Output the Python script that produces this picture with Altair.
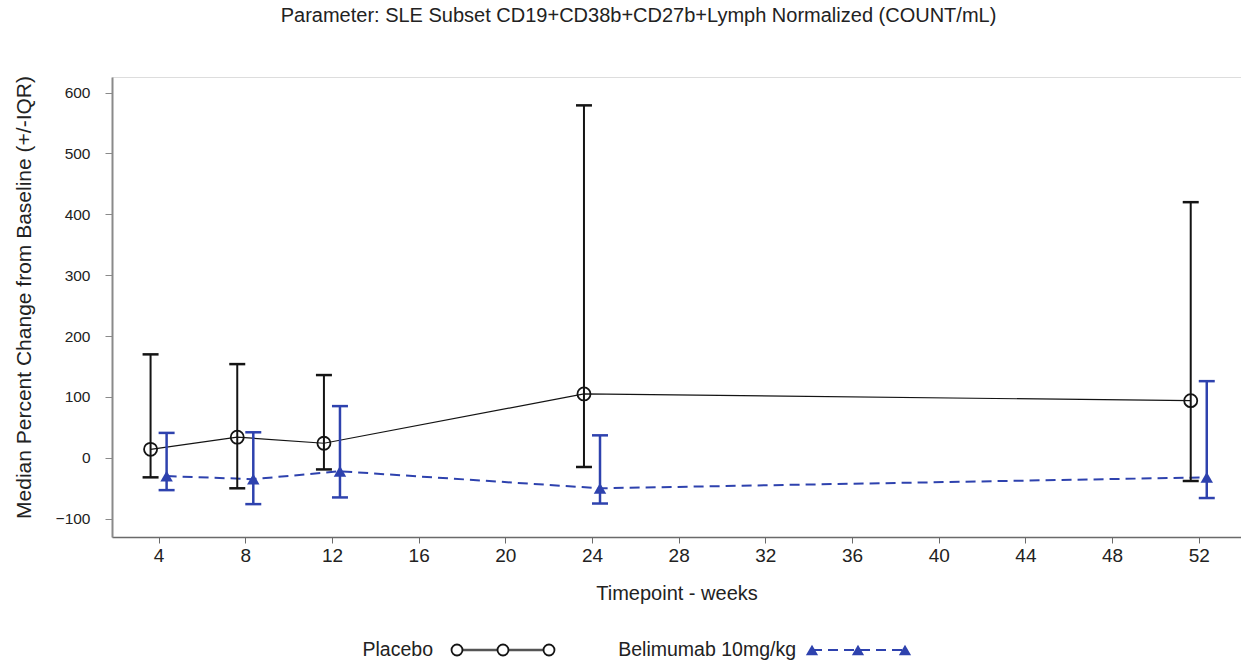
import altair as alt
import pandas as pd

# ---- data ----
groups = ["Placebo", "Belimumab 10mg/kg"]
weeks = [4, 8, 12, 24, 52]
placebo_median = [14, 34, 24, 105, 94]
placebo_q1 = [-32, -50, -19, -15, -38]
placebo_q3 = [170, 154, 136, 579, 420]
beli_median = [-30, -35, -22, -50, -32]
beli_q1 = [-53, -76, -65, -75, -66]
beli_q3 = [41, 42, 85, 37, 126]
x_ticks = list(range(4, 53, 4))
y_ticks = list(range(-100, 601, 100))

rows = []
for g, med, lo, hi in [(groups[0], placebo_median, placebo_q1, placebo_q3),
                       (groups[1], beli_median, beli_q1, beli_q3)]:
    for w, m, a, b in zip(weeks, med, lo, hi):
        rows.append({"group": g, "week": w, "median": m, "q1": a, "q3": b})
df = pd.DataFrame(rows)

FONT = "Liberation Sans"
BLACK = "#141414"
BLUE = "#2E42AE"
W, H = 1129, 460
PAD_L, PAD_T = 112, 77

xscale = alt.Scale(domain=[1.85, 53.95], nice=False, zero=False)
yscale = alt.Scale(domain=[-130, 625.6], nice=False, zero=False)

xaxis = alt.Axis(values=x_ticks, title="Timepoint - weeks", grid=False,
                 labelFontSize=19, titleFontSize=20, labelFont=FONT, titleFont=FONT,
                 labelColor="#222", titleColor="#222", titleFontWeight="normal",
                 domainColor="#6a6a6a", domainWidth=1.5, tickColor="#6a6a6a",
                 tickSize=6, labelPadding=3, titleY=56, titleBaseline="middle")
yaxis = alt.Axis(values=y_ticks, title="Median Percent Change from Baseline (+/-IQR)",
                 grid=False, labelFontSize=15.5, titleFontSize=21, labelFont=FONT,
                 titleFont=FONT, labelColor="#222", titleColor="#222",
                 titleFontWeight="normal", domainColor="#8a8a8a", domainWidth=2,
                 tickColor="#8a8a8a", tickSize=7, labelPadding=15,
                 titleX=-88, titleY=220, titleAlign="center", titleBaseline="middle",
                 titleAngle=270)

base = alt.Chart(df).transform_calculate(
    xd="datum.week + (datum.group == 'Placebo' ? -0.37 : 0.37)"
)
X = alt.X("xd:Q", scale=xscale, axis=xaxis)
Y = alt.Y("median:Q", scale=yscale, axis=yaxis)


def grp(g):
    return base.transform_filter(alt.datum.group == g)


pl_line = grp(groups[0]).mark_line(color=BLACK, strokeWidth=1.2).encode(x=X, y=Y)
be_line = grp(groups[1]).mark_line(color=BLUE, strokeWidth=2, strokeDash=[10, 6]).encode(x=X, y=Y)

pl_rule = grp(groups[0]).mark_rule(color=BLACK, strokeWidth=2).encode(
    x=X, y=alt.Y("q1:Q", scale=yscale), y2="q3:Q")
be_rule = grp(groups[1]).mark_rule(color=BLUE, strokeWidth=2.5).encode(
    x=X, y=alt.Y("q1:Q", scale=yscale), y2="q3:Q")

caps = []
for g, col in [(groups[0], BLACK), (groups[1], BLUE)]:
    for f in ["q1", "q3"]:
        caps.append(grp(g).mark_tick(color=col, orient="horizontal", size=16,
                                     thickness=2.5, opacity=1).encode(
            x=X, y=alt.Y(f"{f}:Q", scale=yscale)))

pl_pts = grp(groups[0]).mark_point(shape="circle", filled=False, color=BLACK,
                                   size=170, strokeWidth=1.8, opacity=1).encode(x=X, y=Y)
be_pts = grp(groups[1]).mark_point(shape="triangle-up", filled=True, color=BLUE,
                                   size=155, opacity=1).encode(x=X, y=Y)

# ---- manual legend below the plot ----
one = alt.Data(values=[{}])
LY = 650 - PAD_T


def px(v):
    return v - PAD_L


legend = [
    alt.Chart(one).mark_text(align="right", baseline="middle", font=FONT, fontSize=19.5,
                             color="#222").encode(x=alt.value(px(433)), y=alt.value(LY),
                                                  text=alt.value(groups[0])),
    alt.Chart(one).mark_rule(color="#555", strokeWidth=2.5).encode(
        x=alt.value(px(457)), x2=alt.value(px(549)), y=alt.value(LY)),
    alt.Chart(one).mark_text(align="right", baseline="middle", font=FONT, fontSize=19.5,
                             color="#222").encode(x=alt.value(px(796)), y=alt.value(LY),
                                                  text=alt.value(groups[1])),
    alt.Chart(one).mark_rule(color=BLUE, strokeWidth=2, strokeDash=[10, 6]).encode(
        x=alt.value(px(812)), x2=alt.value(px(905)), y=alt.value(LY)),
]
for cx in [457, 503, 549]:
    legend.append(alt.Chart(one).mark_point(shape="circle", filled=True, fill="white",
                                            stroke=BLACK, size=120, strokeWidth=1.8,
                                            opacity=1).encode(
        x=alt.value(px(cx)), y=alt.value(LY)))
for cx in [812, 858, 905]:
    legend.append(alt.Chart(one).mark_point(shape="triangle-up", filled=True, color=BLUE,
                                            size=150, opacity=1).encode(
        x=alt.value(px(cx)), y=alt.value(LY)))

chart = alt.layer(pl_line, be_line, pl_rule, be_rule, *caps, pl_pts, be_pts, *legend).properties(
    width=W, height=H,
    title=alt.TitleParams(
        "Parameter: SLE Subset CD19+CD38b+CD27b+Lymph Normalized (COUNT/mL)",
        font=FONT, fontSize=20, fontWeight="normal", color="#222",
        anchor="middle", frame="group", dx=-38, offset=50),
    autosize=alt.AutoSizeParams(type="none"),
    padding={"left": PAD_L, "top": PAD_T, "right": 0, "bottom": 124},
).configure_view(stroke="#a8a8a8", strokeWidth=2).configure(background="white")

chart.save("out.html", embed_options={"renderer": "svg", "actions": False})
